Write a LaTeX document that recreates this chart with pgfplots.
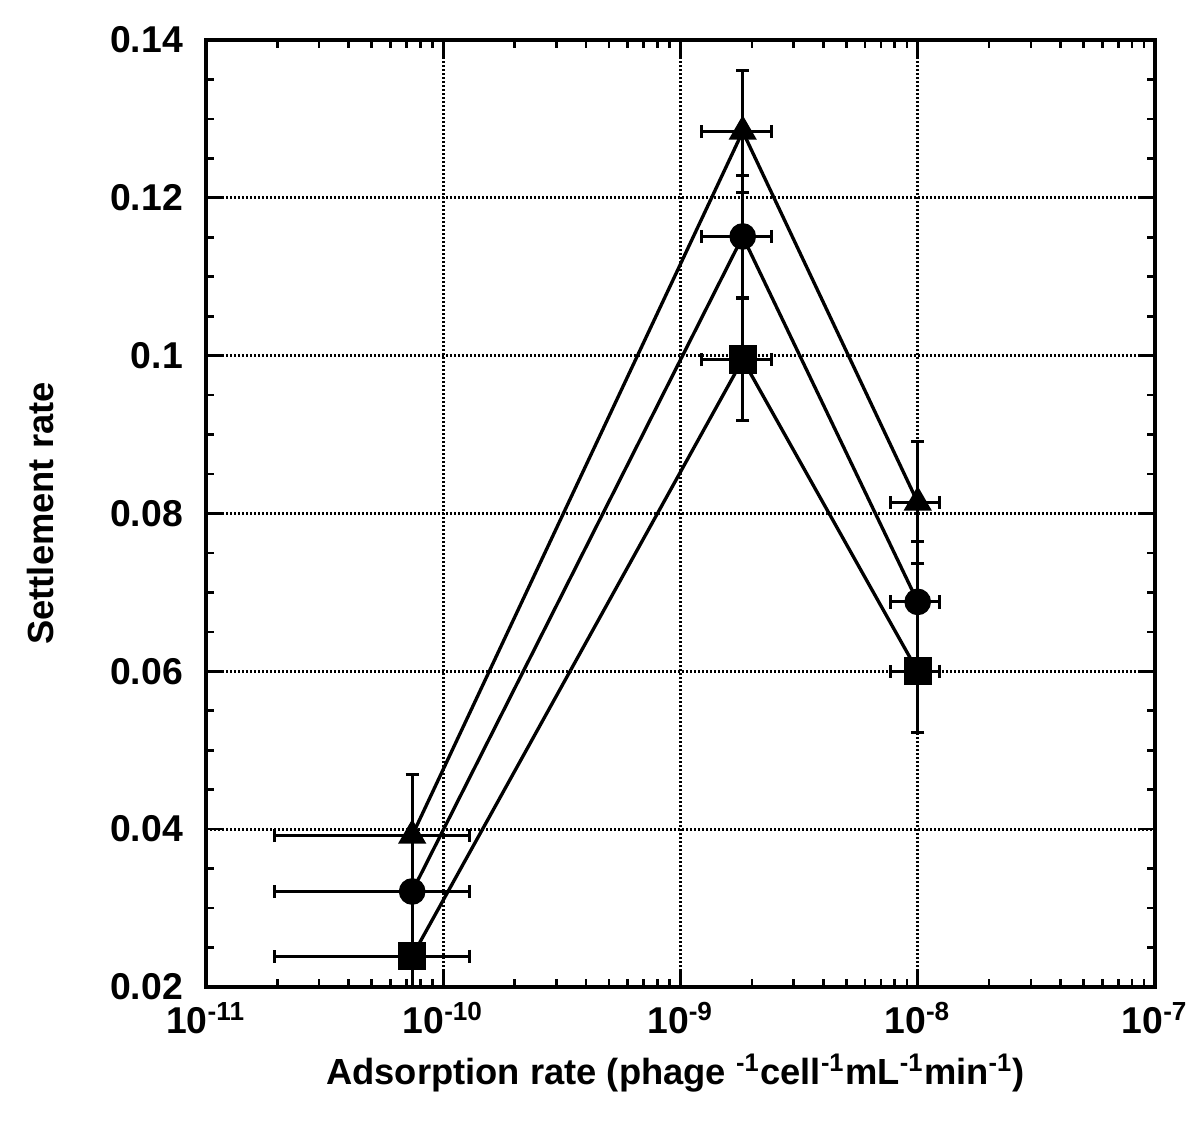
\documentclass[border=0pt]{standalone}
\usepackage{fontspec}
\setmainfont{Liberation Sans}
\usepackage{pgfplots}
\pgfplotsset{compat=1.18}

\begin{document}
\begin{tikzpicture}
\begin{axis}[
  name=ax,
  xmode=log,
  scale only axis,
  width=284.7pt, height=284.1pt,
  xmin=1e-11, xmax=1e-7,
  ymin=0.02, ymax=0.14,
  xtick={1e-11,1e-10,1e-9,1e-8,1e-7},
  xticklabels={10\textsuperscript{-11},10\textsuperscript{-10},10\textsuperscript{-9},10\textsuperscript{-8},10\textsuperscript{-7}},
  minor xtick={2e-11,3e-11,4e-11,5e-11,6e-11,7e-11,8e-11,9e-11,
               2e-10,3e-10,4e-10,5e-10,6e-10,7e-10,8e-10,9e-10,
               2e-9,3e-9,4e-9,5e-9,6e-9,7e-9,8e-9,9e-9,
               2e-8,3e-8,4e-8,5e-8,6e-8,7e-8,8e-8,9e-8},
  ytick={0.02,0.04,0.06,0.08,0.1,0.12,0.14},
  yticklabels={0.02,0.04,0.06,0.08,0.1,0.12,0.14},
  minor y tick num=3,
  grid=major,
  major grid style={black, line width=0.9pt, dash pattern=on 0.6pt off 0.6pt},
  axis line style={line width=1.2pt},
  tick style={black, line width=0.8pt},
  major tick length=5pt, minor tick length=2.5pt,
  tick align=inside,
  tick label style={font=\bfseries\fontsize{11.2}{13}\selectfont},
  yticklabel style={xshift=-3.4pt},
  xticklabel style={yshift=-1pt},
  label style={font=\bfseries\fontsize{10.9}{13}\selectfont},
  xlabel={Adsorption rate (phage \textsuperscript{-1}cell\textsuperscript{-1}mL\textsuperscript{-1}min\textsuperscript{-1})},
  ylabel={Settlement rate},
  xlabel style={at={(axis description cs:0.495,-0.0908)}, anchor=center},
  ylabel style={at={(axis description cs:-0.174,0.5)}, anchor=center},
]
\addplot[black, line width=1pt, mark=triangle*, mark size=3.9pt,
  error bars/.cd, x dir=both, x explicit, y dir=both, y explicit,
  error bar style={line width=0.9pt},
  error mark options={rotate=90, line width=0.9pt, mark size=2pt}]
  coordinates {
  (7.4e-11,0.0392) +- (5.45e-11,0.0077)
  (1.83e-9,0.1284) +- (0.6e-9,0.0077)
  (1.0e-8,0.0814)  +- (2.3e-9,0.0077)
  };
\addplot[black, line width=1pt, mark=*, mark size=3.5pt,
  error bars/.cd, x dir=both, x explicit, y dir=both, y explicit,
  error bar style={line width=0.9pt},
  error mark options={rotate=90, line width=0.9pt, mark size=2pt}]
  coordinates {
  (7.4e-11,0.0321) +- (5.45e-11,0.0077)
  (1.83e-9,0.1151) +- (0.6e-9,0.0077)
  (1.0e-8,0.0688)  +- (2.3e-9,0.0077)
  };
\addplot[black, line width=1pt, mark=square*, mark size=3.75pt,
  error bars/.cd, x dir=both, x explicit, y dir=both, y explicit,
  error bar style={line width=0.9pt},
  error mark options={rotate=90, line width=0.9pt, mark size=2pt}]
  coordinates {
  (7.4e-11,0.0239) +- (5.45e-11,0.0077)
  (1.83e-9,0.0995) +- (0.6e-9,0.0077)
  (1.0e-8,0.0600)  +- (2.3e-9,0.0077)
  };
\end{axis}
\path[use as bounding box] ([xshift=-61.8pt,yshift=-42.6pt]ax.south west)
  rectangle ([xshift=13.5pt,yshift=12pt]ax.north east);
\end{tikzpicture}
\end{document}
